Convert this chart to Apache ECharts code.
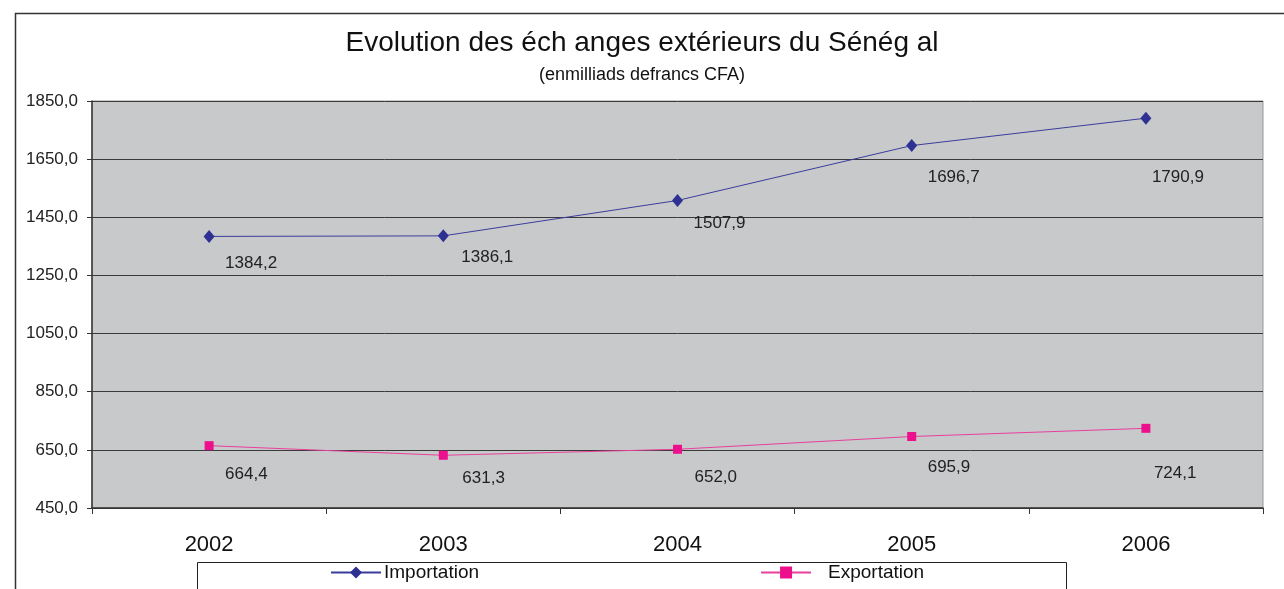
<!DOCTYPE html>
<html>
<head>
<meta charset="utf-8">
<script src="https://cdn.jsdelivr.net/npm/echarts@6/dist/echarts.min.js"></script>
<style>
html,body{margin:0;padding:0;background:#fff;}
#chart{width:1284px;height:589px;}
</style>
</head>
<body>
<div id="chart"></div>
<script>
const years = ['2002', '2003', '2004', '2005', '2006'];
const importation = [1384.2, 1386.1, 1507.9, 1696.7, 1790.9];
const exportation = [664.4, 631.3, 652.0, 695.9, 724.1];
const seriesNames = ['Importation', 'Exportation'];
const titleText = 'Evolution des éch anges extérieurs du Sénég al';
const subtitleText = '(enmilliads defrancs CFA)';

// label offsets (style only), [dx, dy] from each point
const importOffsets = [[16, 27], [18, 21], [16, 23], [16, 32], [6, 59]];
const exportOffsets = [[16, 29], [19, 23], [17, 28], [16, 31], [8, 45]];

const fmt = v => Number(v).toFixed(1).replace('.', ',');

function buildData(values, offsets) {
  return values.map((v, i) => ({
    value: v,
    label: { offset: offsets[i] }
  }));
}

const labelStyle = {
  show: true,
  position: 'inside',
  align: 'left',
  verticalAlign: 'middle',
  color: '#222',
  fontSize: 17,
  fontFamily: 'Liberation Sans, Arial, sans-serif',
  formatter: p => fmt(p.value)
};

const chart = echarts.init(document.getElementById('chart'), null, { renderer: 'canvas' });
chart.setOption({
  animation: false,
  backgroundColor: '#ffffff',
  textStyle: { fontFamily: 'Liberation Sans, Arial, sans-serif' },
  title: [
    {
      text: titleText,
      left: 'center',
      top: 29,
      textStyle: { fontSize: 28, fontWeight: 'normal', color: '#111' },
      padding: 0
    },
    {
      text: subtitleText,
      left: 'center',
      top: 66,
      textStyle: { fontSize: 18, fontWeight: 'normal', color: '#111', letterSpacing: 1 },
      padding: 0
    }
  ],
  graphic: [
    {
      type: 'rect',
      shape: { x: 15.5, y: 13.5, width: 1300, height: 620 },
      style: { fill: 'none', stroke: '#333', lineWidth: 1.5 },
      silent: true,
      z: -10
    },
    {
      type: 'rect',
      shape: { x: 197.5, y: 562.5, width: 869, height: 28 },
      style: { fill: '#fff', stroke: '#222', lineWidth: 1 },
      silent: true,
      z: 0
    }
  ],
  legend: {
    data: [
      { name: seriesNames[0] },
      { name: seriesNames[1], textStyle: { padding: [0, 0, 0, 12] } }
    ],
    left: 330,
    top: 563,
    itemWidth: 50,
    itemHeight: 15,
    itemGap: 281,
    padding: 0,
    z: 10,
    textStyle: { fontSize: 19, color: '#111', padding: [0, 0, 0, -2] }
  },
  grid: {
    left: 92,
    right: 21,
    top: 101,
    bottom: 81,
    show: true,
    backgroundColor: '#c8c9cb',
    borderColor: '#999',
    borderWidth: 1
  },
  xAxis: {
    type: 'category',
    data: years,
    boundaryGap: true,
    axisLine: { show: true, lineStyle: { color: '#333', width: 1.5 } },
    axisTick: { show: true, alignWithLabel: false, length: 6, lineStyle: { color: '#333' } },
    axisLabel: { fontSize: 22, color: '#111', margin: 26, letterSpacing: 1.5 },
    splitLine: { show: false }
  },
  yAxis: {
    type: 'value',
    min: 450,
    max: 1850,
    interval: 200,
    axisLine: { show: true, lineStyle: { color: '#333', width: 1.5 } },
    axisTick: { show: true, length: 5, inside: false, lineStyle: { color: '#333' } },
    axisLabel: { fontSize: 17, color: '#222', margin: 14, letterSpacing: 0.5, formatter: v => fmt(v) },
    splitLine: { show: true, lineStyle: { color: '#3a3a3a', width: 1 } }
  },
  series: [
    {
      name: seriesNames[0],
      type: 'line',
      data: buildData(importation, importOffsets),
      symbol: 'diamond',
      symbolSize: [11, 13],
      itemStyle: { color: '#2e3192' },
      lineStyle: { color: '#3a3d9c', width: 1 },
      label: labelStyle,
      z: 5
    },
    {
      name: seriesNames[1],
      type: 'line',
      data: buildData(exportation, exportOffsets),
      symbol: 'rect',
      symbolSize: 9,
      itemStyle: { color: '#ec108c' },
      lineStyle: { color: '#e8409c', width: 1 },
      label: labelStyle,
      z: 5
    }
  ]
});
</script>
</body>
</html>
